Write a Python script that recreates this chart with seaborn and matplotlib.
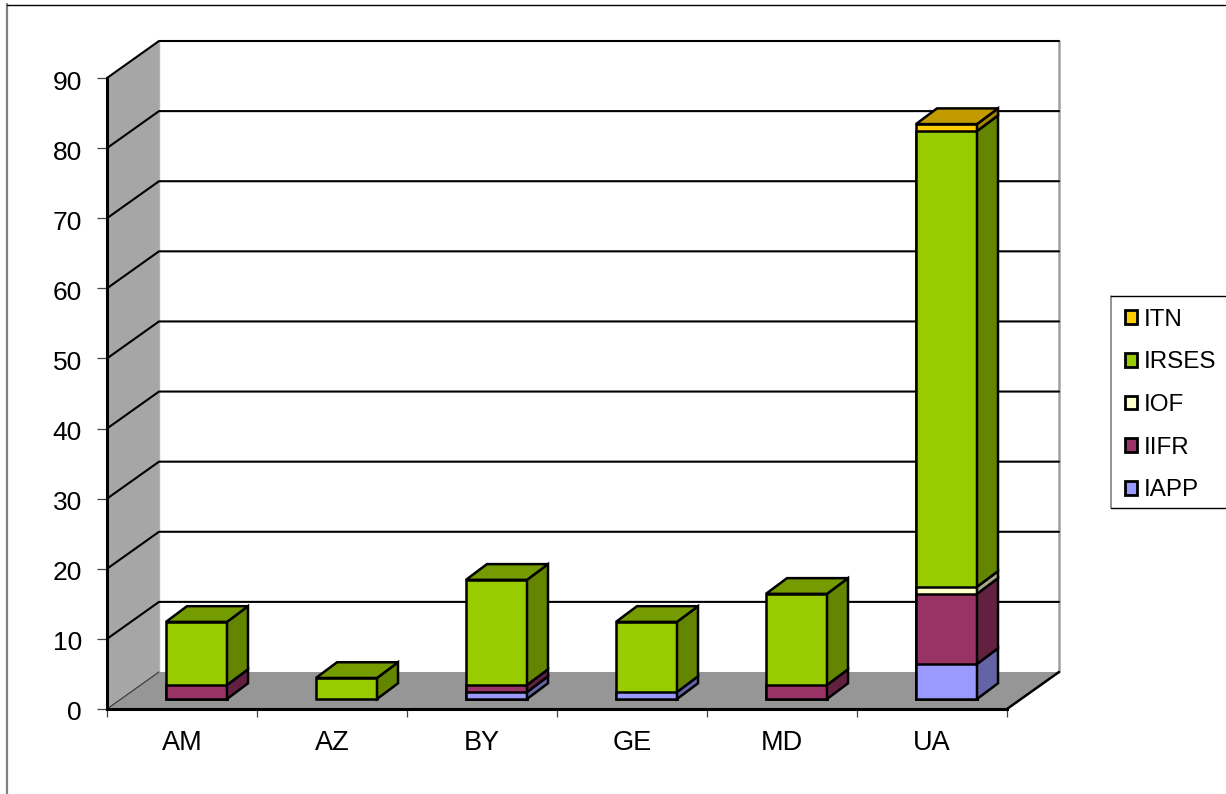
import pandas as pd
import matplotlib
matplotlib.use('Agg')
import matplotlib.pyplot as plt
from matplotlib.lines import Line2D
from matplotlib.patches import Patch, Polygon
from matplotlib.colors import to_rgb
from matplotlib.transforms import ScaledTranslation
import seaborn as sns

countries = ['AM', 'AZ', 'BY', 'GE', 'MD', 'UA']
iapp = [0, 0, 1, 1, 0, 5]
iifr = [2, 0, 1, 0, 2, 10]
iof = [0, 0, 0, 0, 0, 1]
irses = [9, 3, 15, 10, 13, 65]
itn = [0, 0, 0, 0, 0, 1]

series_names = ['IAPP', 'IIFR', 'IOF', 'IRSES', 'ITN']
series_values = [iapp, iifr, iof, irses, itn]
colors = ['#9999FF', '#993366', '#FFFFCC', '#99CC00', '#FFCC00']
y_ticks = list(range(0, 100, 10))

W, H = 1226, 794
PX = 900 / 6      # pixels per category
PY = 631 / 90     # pixels per unit
WALL_DX, WALL_DY = 52 / PX, 37 / PY
BAR_DX, BAR_DY = 14.5 / PX, 10 / PY
DEPTH_DX, DEPTH_DY = 21 / PX, 15.7 / PY
BAR_W = 61 / PX

sns.set_theme(style='white')
plt.rcParams['font.family'] = ['Liberation Sans', 'DejaVu Sans']

# cumulative tops, the bars get drawn from the back of the stack to the front
rows = []
for c_i, country in enumerate(countries):
    total = 0
    for s_i, name in enumerate(series_names):
        val = series_values[s_i][c_i]
        if val > 0:
            rows.append({'country': country, 'pos': c_i, 'series': name,
                         'bottom': total, 'top': total + val, 'color': colors[s_i]})
        total += val
df = pd.DataFrame(rows)

fig = plt.figure(figsize=(W / 100, H / 100), dpi=100, facecolor='white')
ax = fig.add_axes([107 / W, (H - 709) / H, 900 / W, 631 / H])
ax.patch.set_alpha(0)

sns.barplot(data=df, x='country', y='top', hue='series', order=countries,
            hue_order=series_names[::-1], palette=dict(zip(series_names, colors)),
            dodge=False, width=BAR_W, saturation=1, edgecolor='black', linewidth=1.8,
            legend=False, ax=ax, zorder=3)

# push the front faces back onto the floor
for bar in ax.patches:
    bar.set_x(bar.get_x() + BAR_DX)
    bar.set_y(bar.get_y() + BAR_DY)


def shade(color, k):
    return tuple(v * k for v in to_rgb(color))


def face(points, color, edge='black', lw=1.8, z=3):
    ax.add_patch(Polygon(points, closed=True, facecolor=color, edgecolor=edge,
                         linewidth=lw, zorder=z, clip_on=False, joinstyle='miter'))


# walls and floor
x0, x1 = -0.5, 5.5
face([(x0, 0), (x0 + WALL_DX, WALL_DY), (x0 + WALL_DX, 90 + WALL_DY), (x0, 90)], '#A6A6A6', 'none', 0, 0.5)
face([(x0, 0), (x0 + WALL_DX, WALL_DY), (x1 + WALL_DX, WALL_DY), (x1, 0)], '#969696', 'none', 0, 0.6)
ax.plot([x0 + WALL_DX] * 2, [WALL_DY, 90 + WALL_DY], color='#B4B4B4', lw=1, zorder=0.7, clip_on=False)
ax.plot([x1 + WALL_DX] * 2, [WALL_DY, 90 + WALL_DY], color='#A0A0A0', lw=1.8, zorder=0.7, clip_on=False)

for v in y_ticks[1:]:
    ax.plot([x0, x0 + WALL_DX, x1 + WALL_DX], [v, v + WALL_DY, v + WALL_DY],
            color='black', lw=1.5, zorder=0.8, clip_on=False, solid_joinstyle='miter')
ax.plot([x0, x0 + WALL_DX], [0, WALL_DY], color='#333333', lw=0.8, zorder=0.8, clip_on=False)
ax.plot([x1, x1 + WALL_DX], [0, WALL_DY], color='black', lw=1.8, zorder=0.8, clip_on=False)

# side and top faces of each stacked segment
for _, row in df.iterrows():
    left = row['pos'] + BAR_DX - BAR_W / 2
    right = left + BAR_W
    lo = row['bottom'] + BAR_DY
    hi = row['top'] + BAR_DY
    face([(right, lo), (right + DEPTH_DX, lo + DEPTH_DY),
          (right + DEPTH_DX, hi + DEPTH_DY), (right, hi)], shade(row['color'], 0.65))
for c_i in range(len(countries)):
    last = df[df['pos'] == c_i].iloc[-1]
    left = c_i + BAR_DX - BAR_W / 2
    right = left + BAR_W
    hi = last['top'] + BAR_DY
    face([(left, hi), (right, hi), (right + DEPTH_DX, hi + DEPTH_DY),
          (left + DEPTH_DX, hi + DEPTH_DY)], shade(last['color'], 0.76))

ax.set_xlim(x0, x1)
ax.set_ylim(0, 90)
ax.set_xlabel('')
ax.set_ylabel('')
ax.set_yticks(y_ticks)
ax.set_xticks(range(len(countries)), countries)
ax.set_xticks([i - 0.5 for i in range(len(countries) + 1)], minor=True)
ax.tick_params(axis='y', length=7, width=0.9, color='#444444', pad=11, labelsize=19,
               labelcolor='black', left=True)
ax.tick_params(axis='x', which='major', length=0, pad=15, labelsize=19.5, labelcolor='black')
ax.tick_params(axis='x', which='minor', length=6, width=0.9, color='#444444', bottom=True)

# y labels sit a little under their ticks
for label in ax.get_yticklabels():
    label.set_transform(label.get_transform() + ScaledTranslation(0, -2 / 100, fig.dpi_scale_trans))

sns.despine(ax=ax, top=True, right=True)
for side in ['left', 'bottom']:
    ax.spines[side].set_color('black')
    ax.spines[side].set_linewidth(2.2)
    ax.spines[side].set_zorder(2)


def frame_line(xs, ys, color, lw):
    fig.add_artist(Line2D([x / W for x in xs], [1 - y / H for y in ys], color=color, lw=lw))


# chart and legend boxes
frame_line([7, 7], [4, 794], '#808080', 1.6)
frame_line([7, 1226], [4.5, 4.5], 'black', 1.0)
frame_line([1111, 1111], [296, 508], '#808080', 1.2)
frame_line([1111, 1226], [296, 296], 'black', 1.0)
frame_line([1111, 1226], [508, 508], 'black', 1.0)

handles = [Patch(facecolor=c, edgecolor='black', linewidth=2) for c in colors[::-1]]
fig.legend(handles, series_names[::-1], loc='upper left', frameon=False,
           bbox_to_anchor=(1118 / W, 1 - 301.5 / H), fontsize=17.4, labelspacing=0.855,
           handlelength=0.5, handleheight=0.5, handletextpad=0.28,
           borderpad=0.3, borderaxespad=0, labelcolor='black')

fig.savefig('out.png', dpi=100)
